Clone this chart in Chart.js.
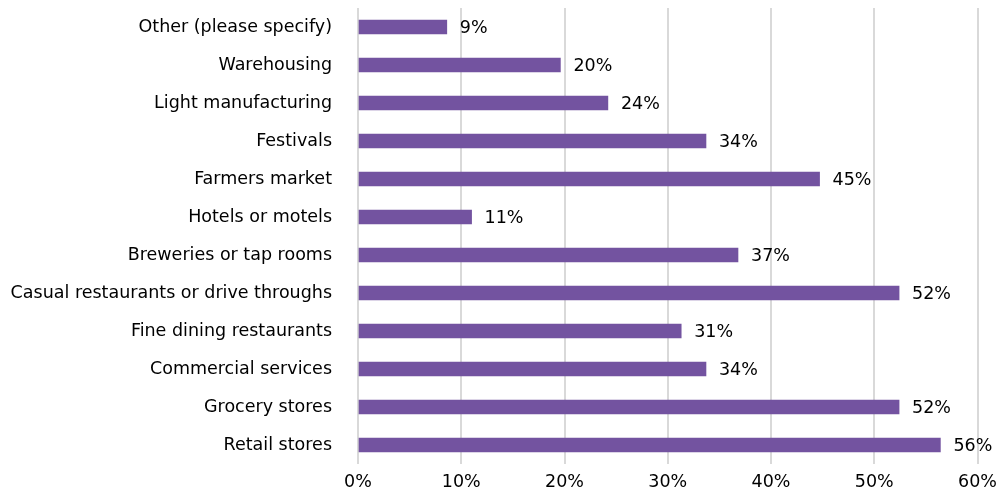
<!DOCTYPE html>
<html lang="en">
<head>
    <meta charset="UTF-8">
    <title>Survey responses</title>
    <script src="https://cdn.jsdelivr.net/npm/chart.js"></script>
    <style>
        body { margin: 0; background: #fff; }
        #wrap { width: 1005px; height: 501px; }
    </style>
</head>
<body>
    <div id="wrap"><canvas id="barChart"></canvas></div>

    <script>
        // categories, top to bottom
        const categories = [
            'Other (please specify)',
            'Warehousing',
            'Light manufacturing',
            'Festivals',
            'Farmers market',
            'Hotels or motels',
            'Breweries or tap rooms',
            'Casual restaurants or drive throughs',
            'Fine dining restaurants',
            'Commercial services',
            'Grocery stores',
            'Retail stores'
        ];
        // share of responses (%)
        const shares = [8.6, 19.6, 24.2, 33.7, 44.7, 11.0, 36.8, 52.4, 31.3, 33.7, 52.4, 56.4];
        const xTicks = [0, 10, 20, 30, 40, 50, 60];

        const fontFamily = '"DejaVu Sans", sans-serif';

        // percentage label after each bar
        const valueLabels = {
            id: 'valueLabels',
            afterDatasetsDraw(chart) {
                const ctx = chart.ctx;
                const meta = chart.getDatasetMeta(0);
                ctx.save();
                ctx.font = '17.5px ' + fontFamily;
                ctx.fillStyle = '#000';
                ctx.textAlign = 'left';
                ctx.textBaseline = 'middle';
                meta.data.forEach((bar, i) => {
                    ctx.fillText(Math.round(shares[i]) + '%', bar.x + 13, bar.y + 1);
                });
                ctx.restore();
            }
        };

        const ctx = document.getElementById('barChart').getContext('2d');
        new Chart(ctx, {
            type: 'bar',
            data: {
                labels: categories,
                datasets: [{
                    data: shares,
                    backgroundColor: '#7353A0',
                    borderWidth: 0,
                    barThickness: 14
                }]
            },
            options: {
                indexAxis: 'y',
                responsive: true,
                maintainAspectRatio: false,
                animation: false,
                layout: { padding: { top: 8, right: 17, bottom: 0, left: 0 } },
                plugins: {
                    legend: { display: false },
                    tooltip: { enabled: false }
                },
                scales: {
                    x: {
                        min: 0,
                        max: 60,
                        afterBuildTicks: axis => { axis.ticks = xTicks.map(v => ({ value: v })); },
                        grid: { color: '#d9d9d9', lineWidth: 2, drawTicks: false },
                        border: { display: false },
                        ticks: {
                            padding: 8,
                            color: '#000',
                            font: { family: fontFamily, size: 17.5 },
                            callback: v => v + '%'
                        }
                    },
                    y: {
                        grid: { display: false },
                        border: { display: false },
                        afterFit: axis => {
                            axis.width = 358;
                            axis.paddingTop = 0;
                            axis.paddingBottom = 0;
                        },
                        ticks: {
                            padding: 18,
                            color: '#000',
                            font: { family: fontFamily, size: 17.5 }
                        }
                    }
                }
            },
            plugins: [valueLabels]
        });
    </script>
</body>
</html>
